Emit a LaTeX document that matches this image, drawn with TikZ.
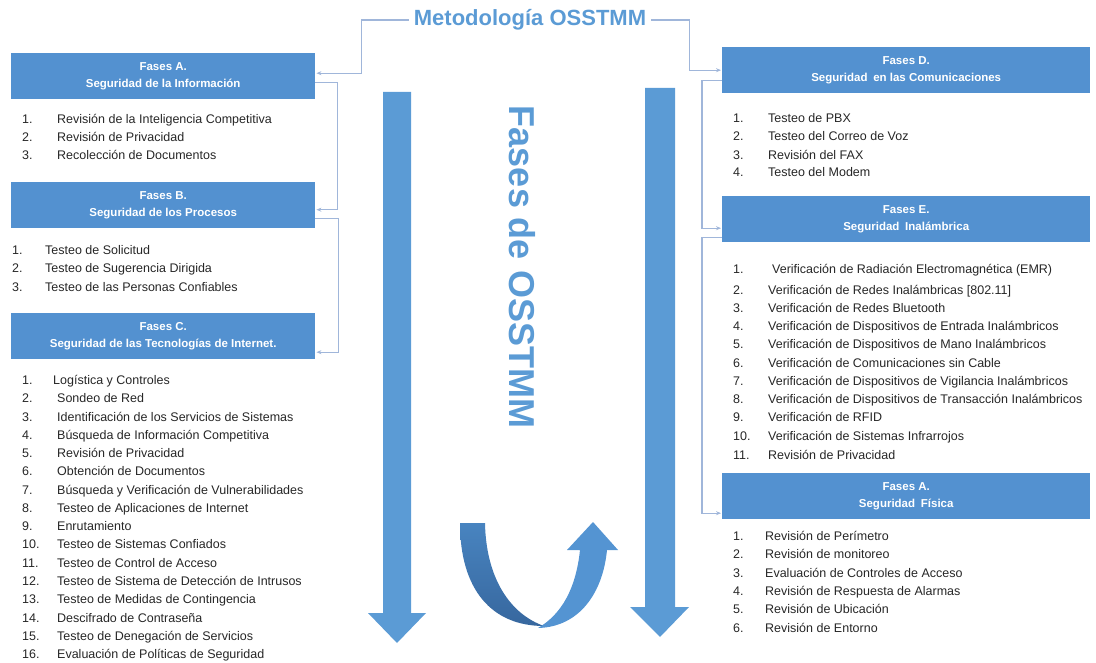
\documentclass[tikz,border=0pt]{standalone}
\usepackage{fontspec}
\setmainfont{Liberation Sans}
\usetikzlibrary{arrows.meta,calc}
\definecolor{hdr}{RGB}{83,145,208}
\definecolor{ttl}{RGB}{91,155,213}
\definecolor{conncol}{RGB}{160,182,218}
\definecolor{txt}{RGB}{38,38,38}
\definecolor{udarkA}{RGB}{72,132,192}
\definecolor{udarkB}{RGB}{55,103,158}
\definecolor{ulight}{RGB}{84,148,210}
\begin{document}
\begin{tikzpicture}[x=1pt,y=-1pt,
  hdrbox/.style={fill=hdr,text=white,font=\bfseries\fontsize{11.5}{17}\selectfont,align=center,inner sep=0pt,anchor=north west},
  leftbox/.style={hdrbox,minimum width=304,minimum height=46},
  rightbox/.style={hdrbox,minimum width=368,minimum height=46},
  numlbl/.style={anchor=base west,inner sep=0pt,text=txt,font=\fontsize{12.5}{14}\selectfont},
  itemlbl/.style={anchor=base west,inner sep=0pt,text=txt,font=\fontsize{12.5}{14}\selectfont},
  cn/.style={draw=conncol,line width=1.2pt,-{Stealth[length=5pt,width=4pt]}},
  bigarrow/.style={fill=ttl,draw=none}]
\useasboundingbox (0,0) rectangle (1096,663);

% title
\node[font=\bfseries\fontsize{22}{22}\selectfont,text=ttl,inner sep=5pt] (title) at (530,20) {Metodología OSSTMM};

% header boxes
\node[leftbox] (A) at (11,53) {Fases A.\\Seguridad de la Información};
\node[leftbox] (B) at (11,182) {Fases B.\\Seguridad de los Procesos};
\node[leftbox] (C) at (11,313) {Fases C.\\Seguridad de las Tecnologías de Internet.};
\node[rightbox] (D) at (722,47) {Fases D.\\Seguridad\enspace en las Comunicaciones};
\node[rightbox] (E) at (722,196) {Fases E.\\Seguridad\enspace Inalámbrica};
\node[rightbox] (F) at (722,473) {Fases A.\\Seguridad\enspace Física};

% connectors
\draw[cn] (title.west) -- ++(-47,0) |- ($(A.east)+(1,-3)$);
\draw[cn] ($(A.east)+(0,6)$) -- ++(22,0) |- ($(B.east)+(1,4.5)$);
\draw[cn] ($(B.east)+(0,13.5)$) -- ++(23,0) |- ($(C.east)+(1,16)$);
\draw[cn] (title.east) -- ++(38,0) |- ($(D.west)+(-1,0)$);
\draw[cn] ($(D.west)+(0,10)$) -- ++(-20,0) |- ($(E.west)+(-1,9)$);
\draw[cn] ($(E.west)+(0,18)$) -- ++(-20,0) |- ($(F.west)+(-1,17)$);

% lists
\foreach \y/\x/\t [count=\i] in {
  119/57/{Revisión de la Inteligencia Competitiva},
  137/57/{Revisión de Privacidad},
  155/57/{Recolección de Documentos}}
{ \node[numlbl] (a-\i-n) at (22,\y+4.5) {\i.};
  \node[itemlbl] (a-\i-t) at (\x,\y+4.5) {\t}; }

\foreach \y/\x/\t [count=\i] in {
  250/45/{Testeo de Solicitud},
  268/45/{Testeo de Sugerencia Dirigida},
  287/45/{Testeo de las Personas Confiables}}
{ \node[numlbl] (b-\i-n) at (12,\y+4.5) {\i.};
  \node[itemlbl] (b-\i-t) at (\x,\y+4.5) {\t}; }

\foreach \x/\t [count=\i] in {
  53/{Logística y Controles},
  57/{Sondeo de Red},
  57/{Identificación de los Servicios de Sistemas},
  57/{Búsqueda de Información Competitiva},
  57/{Revisión de Privacidad},
  57/{Obtención de Documentos},
  57/{Búsqueda y Verificación de Vulnerabilidades},
  57/{Testeo de Aplicaciones de Internet},
  57/{Enrutamiento},
  57/{Testeo de Sistemas Confiados},
  57/{Testeo de Control de Acceso},
  57/{Testeo de Sistema de Detección de Intrusos},
  57/{Testeo de Medidas de Contingencia},
  57/{Descifrado de Contraseña},
  57/{Testeo de Denegación de Servicios},
  57/{Evaluación de Políticas de Seguridad}}
{ \node[numlbl] (c-\i-n) at (22,{380+(\i-1)*18.27+4.5}) {\i.};
  \node[itemlbl] (c-\i-t) at (\x,{380+(\i-1)*18.27+4.5}) {\t}; }

\foreach \y/\x/\t [count=\i] in {
  118/768/{Testeo de PBX},
  136/768/{Testeo del Correo de Voz},
  155/768/{Revisión del FAX},
  172/768/{Testeo del Modem}}
{ \node[numlbl] (d-\i-n) at (733,\y+4.5) {\i.};
  \node[itemlbl] (d-\i-t) at (\x,\y+4.5) {\t}; }

\foreach \y/\x/\t [count=\i] in {
  269/772/{Verificación de Radiación Electromagnética (EMR)},
  290/768/{Verificación de Redes Inalámbricas [802.11]},
  308/768/{Verificación de Redes Bluetooth},
  326/768/{Verificación de Dispositivos de Entrada Inalámbricos},
  344/768/{Verificación de Dispositivos de Mano Inalámbricos},
  363/768/{Verificación de Comunicaciones sin Cable},
  381/768/{Verificación de Dispositivos de Vigilancia Inalámbricos},
  399/768/{Verificación de Dispositivos de Transacción Inalámbricos},
  417/768/{Verificación de RFID},
  436/768/{Verificación de Sistemas Infrarrojos},
  455/768/{Revisión de Privacidad}}
{ \node[numlbl] (e-\i-n) at (733,\y+4.5) {\i.};
  \node[itemlbl] (e-\i-t) at (\x,\y+4.5) {\t}; }

\foreach \y/\x/\t [count=\i] in {
  536/765/{Revisión de Perímetro},
  554/765/{Revisión de monitoreo},
  573/765/{Evaluación de Controles de Acceso},
  591/765/{Revisión de Respuesta de Alarmas},
  609/765/{Revisión de Ubicación},
  628/765/{Revisión de Entorno}}
{ \node[numlbl] (f-\i-n) at (733,\y+4.5) {\i.};
  \node[itemlbl] (f-\i-t) at (\x,\y+4.5) {\t}; }

% vertical label
\node[rotate=-90,font=\bfseries\fontsize{36}{36}\selectfont,text=ttl,inner sep=0pt] (vt) at (522,267) {Fases de OSSTMM};

% big down arrows
\fill[bigarrow] (383,92) -- (411,92) -- (411,613) -- (426,613) -- (397,643) -- (368,613) -- (383,613) -- cycle;
\fill[bigarrow] (645,88) -- (675,88) -- (675,607) -- (689,607) -- (660,637) -- (630,607) -- (645,607) -- cycle;

% U-turn arrow
\shade[top color=udarkA,bottom color=udarkB] (460,523) -- (485,523)
  .. controls (486,578) and (510,614) .. (544,626)
  .. controls (492,626) and (460,590) .. (460,523) -- cycle;
\fill[ulight] (538,628) .. controls (580,627) and (603,592) .. (607,550)
  -- (618,550) -- (593,522) -- (567,550) -- (580,550)
  .. controls (576,588) and (562,614) .. (538,628) -- cycle;
\end{tikzpicture}
\end{document}
